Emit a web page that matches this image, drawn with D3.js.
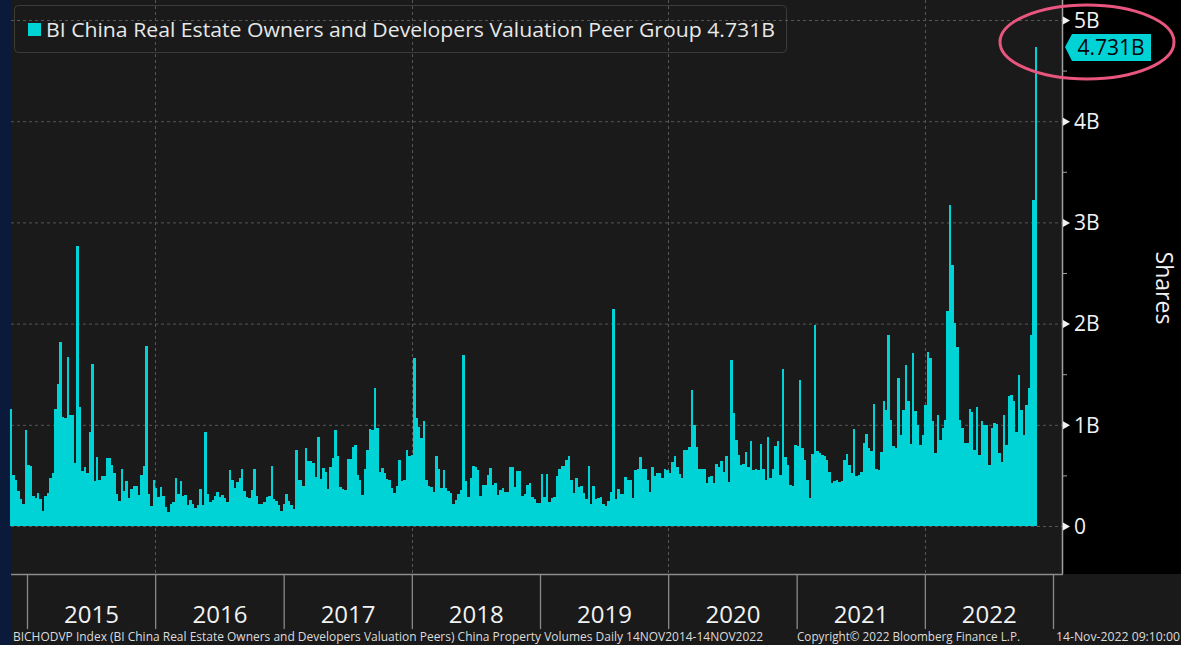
<!DOCTYPE html>
<html>
<head>
<meta charset="utf-8">
<script src="https://cdn.jsdelivr.net/npm/d3@7"></script>
<style>
  html, body { margin: 0; padding: 0; background: #1a1a1a; overflow: hidden; }
  svg { display: block; }
  text { font-family: "Open Sans", "DejaVu Sans", sans-serif; }
</style>
</head>
<body>
<div id="chart"></div>
<script>
// weekly volume (billions of shares), 14NOV2014 .. 14NOV2022
const volumes = [
  1.16, 0.5, 0.45, 0.35, 0.27, 0.22, 0.95, 0.6, 0.59, 0.3,
  0.28, 0.33, 0.27, 0.15, 0.3, 0.33, 0.47, 0.52, 1.16, 1.4,
  1.82, 1.08, 1.07, 1.67, 1.1, 1.1, 0.62, 2.77, 1.18, 0.54,
  0.58, 0.52, 0.93, 1.6, 0.44, 0.68, 0.45, 0.49, 0.49, 0.67,
  0.67, 0.6, 0.52, 0.32, 0.25, 0.56, 0.35, 0.44, 0.28, 0.37,
  0.4, 0.4, 0.31, 0.5, 0.59, 1.78, 0.32, 0.2, 0.45, 0.38,
  0.29, 0.39, 0.3, 0.19, 0.14, 0.22, 0.24, 0.47, 0.32, 0.44,
  0.3, 0.31, 0.21, 0.26, 0.22, 0.18, 0.21, 0.37, 0.21, 0.93,
  0.32, 0.24, 0.26, 0.3, 0.34, 0.29, 0.31, 0.28, 0.24, 0.55,
  0.45, 0.38, 0.43, 0.47, 0.56, 0.35, 0.29, 0.28, 0.36, 0.56,
  0.3, 0.22, 0.22, 0.24, 0.29, 0.3, 0.59, 0.27, 0.25, 0.21,
  0.15, 0.22, 0.32, 0.25, 0.21, 0.17, 0.75, 0.45, 0.45, 0.4,
  0.77, 0.64, 0.64, 0.62, 0.48, 0.88, 0.46, 0.57, 0.53, 0.37,
  0.58, 0.67, 0.95, 0.69, 0.39, 0.37, 0.36, 0.66, 0.66, 0.78,
  0.8, 0.5, 0.45, 0.31, 0.56, 0.75, 0.96, 0.95, 1.36, 0.97,
  0.53, 0.57, 0.52, 0.46, 0.45, 0.38, 0.33, 0.4, 0.65, 0.44,
  0.45, 0.75, 0.69, 0.7, 1.66, 1.07, 0.98, 0.87, 1.04, 0.45,
  0.4, 0.39, 0.34, 0.69, 0.56, 0.38, 0.55, 0.38, 0.35, 0.33,
  0.22, 0.26, 0.32, 0.36, 1.69, 0.44, 0.29, 0.47, 0.59, 0.58,
  0.55, 0.3, 0.41, 0.41, 0.5, 0.57, 0.41, 0.42, 0.31, 0.36,
  0.38, 0.34, 0.34, 0.58, 0.58, 0.39, 0.54, 0.54, 0.3, 0.32,
  0.41, 0.42, 0.29, 0.27, 0.23, 0.23, 0.51, 0.29, 0.51, 0.24,
  0.28, 0.29, 0.49, 0.56, 0.59, 0.59, 0.65, 0.69, 0.45, 0.33,
  0.47, 0.39, 0.4, 0.33, 0.27, 0.59, 0.22, 0.4, 0.27, 0.28,
  0.29, 0.22, 0.2, 0.25, 0.34, 2.14, 0.27, 0.37, 0.32, 0.32,
  0.48, 0.45, 0.45, 0.28, 0.55, 0.56, 0.68, 0.56, 0.56, 0.45,
  0.34, 0.58, 0.49, 0.52, 0.52, 0.47, 0.56, 0.55, 0.52, 0.63,
  0.69, 0.58, 0.51, 0.47, 0.75, 0.75, 0.78, 1.34, 1.0, 0.78,
  0.56, 0.56, 0.56, 0.42, 0.48, 0.49, 0.42, 0.61, 0.58, 0.64,
  0.53, 0.69, 0.43, 1.64, 1.12, 0.85, 0.7, 0.6, 0.61, 0.73,
  0.58, 0.84, 0.55, 0.56, 0.55, 0.81, 0.56, 0.45, 0.88, 0.47,
  0.56, 0.79, 0.84, 0.5, 1.55, 0.68, 0.6, 0.41, 0.4, 0.8,
  0.79, 1.44, 0.77, 0.65, 0.45, 0.28, 0.71, 1.99, 0.74, 0.72,
  0.7, 0.69, 0.65, 0.53, 0.42, 0.44, 0.45, 0.43, 0.44, 0.65,
  0.71, 0.6, 0.52, 0.96, 0.49, 0.5, 0.53, 0.82, 0.91, 0.77,
  0.74, 1.21, 0.56, 0.55, 0.73, 1.24, 1.15, 1.89, 1.05, 0.79,
  0.77, 1.46, 0.9, 1.15, 1.59, 1.24, 0.81, 1.71, 1.14, 1.0,
  0.8, 0.9, 1.2, 1.72, 1.66, 1.04, 0.72, 1.1, 0.85, 0.97,
  1.05, 2.12, 3.17, 2.58, 2.01, 1.77, 1.05, 0.97, 0.82, 0.82,
  1.16, 1.13, 0.75, 1.18, 0.7, 1.04, 1.0, 1.0, 0.6, 0.97,
  1.02, 1.01, 0.72, 0.63, 1.1, 0.8, 1.28, 1.29, 1.24, 0.93,
  1.49, 1.15, 0.9, 1.2, 1.36, 1.89, 3.22, 4.731
];
const lastDate = new Date(2022, 10, 14);

const years = [2015, 2016, 2017, 2018, 2019, 2020, 2021, 2022];
const gridYears = [2016, 2018, 2020, 2022];
const yTicks = [0, 1, 2, 3, 4, 5];
const yLabels = ["0", "1B", "2B", "3B", "4B", "5B"];
const yMinor = [0.5, 1.5, 2.5, 3.5, 4.5];

const seriesName = "BI China Real Estate Owners and Developers Valuation Peer Group 4.731B";
const lastLabel = "4.731B";
const axisTitle = "Shares";
const footerLeft = "BICHODVP Index (BI China Real Estate Owners and Developers Valuation Peers) China Property Volumes  Daily 14NOV2014-14NOV2022";
const footerMid = "Copyright\u00A9 2022 Bloomberg Finance L.P.";
const footerRight = "14-Nov-2022 09:10:00";

const width = 1181;
const height = 645;
const plotLeft = 11;
const plotRight = 1062;
const plotBottom = 574;

const cyan = "#00d3d6";
const gridColor = "#565656";

const data = volumes.map((v, i) => ({
    date: d3.timeDay.offset(lastDate, -7 * (volumes.length - 1 - i)),
    value: v,
}));

const x = d3.scaleTime()
    .domain([new Date(2015, 0, 1), new Date(2023, 0, 1)])
    .range([27, 1053]);
const y = d3.scaleLinear().domain([0, 5]).range([526, 20]);
const barW = x(new Date(2020, 0, 8)) - x(new Date(2020, 0, 1));

const svg = d3.select("#chart").append("svg")
    .attr("width", width)
    .attr("height", height);

// backgrounds
svg.append("rect").attr("width", width).attr("height", height).attr("fill", "#1a1a1a");
svg.append("rect").attr("width", plotLeft).attr("height", height).attr("fill", "#0b1a3a");
svg.append("rect")
    .attr("x", plotRight).attr("y", 0)
    .attr("width", width - plotRight).attr("height", plotBottom)
    .attr("fill", "#000");

// legend box (grid shows through it)
svg.append("rect")
    .attr("x", 14.5).attr("y", 5.5)
    .attr("width", 772).attr("height", 47)
    .attr("rx", 4)
    .attr("fill", "#1a1a1a")
    .attr("stroke", "#3c3c3c");

// grid
const grid = svg.append("g")
    .attr("stroke", gridColor)
    .attr("stroke-dasharray", "3,3");
grid.selectAll("line.h")
    .data(yTicks)
    .join("line")
    .attr("x1", plotLeft).attr("x2", plotRight)
    .attr("y1", d => y(d) + 0.5).attr("y2", d => y(d) + 0.5);
grid.selectAll("line.v")
    .data(gridYears)
    .join("line")
    .attr("x1", d => Math.round(x(new Date(d, 0, 1))) + 0.5)
    .attr("x2", d => Math.round(x(new Date(d, 0, 1))) + 0.5)
    .attr("y1", 0).attr("y2", plotBottom);

// bars, snapped to whole pixels so neighbours meet without seams
const barLeft = d => Math.round(x(d.date) - barW / 2);
const barRight = d => Math.round(x(d.date) + barW / 2);
svg.append("g")
    .attr("shape-rendering", "crispEdges")
    .selectAll("rect")
    .data(data)
    .join("rect")
    .attr("x", barLeft)
    .attr("y", d => y(d.value))
    .attr("width", d => barRight(d) - barLeft(d))
    .attr("height", d => y(0) - y(d.value))
    .attr("fill", cyan);

// frame lines
svg.append("line")
    .attr("x1", plotRight + 0.5).attr("x2", plotRight + 0.5)
    .attr("y1", 0).attr("y2", plotBottom)
    .attr("stroke", "#a0a0a0").attr("stroke-width", 1.5);
svg.append("line")
    .attr("x1", plotLeft).attr("x2", plotRight + 1)
    .attr("y1", plotBottom + 0.5).attr("y2", plotBottom + 0.5)
    .attr("stroke", "#8c8c8c").attr("stroke-width", 1.5);

// y axis on the right
const yAxis = svg.append("g")
    .attr("transform", `translate(${plotRight + 1},0)`)
    .call(d3.axisRight(y).tickValues(yTicks).tickFormat((d, i) => yLabels[i]).tickSize(0).tickPadding(11));
yAxis.select(".domain").remove();
yAxis.selectAll("text")
    .attr("fill", "#f2f2f2")
    .style("font-size", "21px")
    .attr("dy", "0.35em");
yAxis.selectAll(".tick").append("path")
    .attr("d", "M0,-4L7,0L0,4Z")
    .attr("fill", "#f2f2f2");

const yMinorAxis = svg.append("g")
    .attr("transform", `translate(${plotRight + 1},0)`)
    .call(d3.axisRight(y).tickValues(yMinor).tickFormat("").tickSize(4));
yMinorAxis.select(".domain").remove();
yMinorAxis.selectAll("line").attr("stroke", "#a0a0a0");

svg.append("text")
    .attr("transform", "translate(1156,288) rotate(90)")
    .attr("text-anchor", "middle")
    .attr("fill", "#f2f2f2")
    .style("font-size", "23px")
    .text(axisTitle);

// x axis: year separators and labels
const xSep = svg.append("g")
    .attr("transform", `translate(0,${plotBottom})`)
    .call(d3.axisBottom(x).tickValues(years.concat([2023]).map(d => new Date(d, 0, 1))).tickFormat("").tickSize(55));
xSep.select(".domain").remove();
xSep.selectAll("line").attr("stroke", "#8a8a8a").attr("stroke-width", 1.3);

const xLab = svg.append("g")
    .attr("transform", `translate(0,${plotBottom})`)
    .call(d3.axisBottom(x).tickValues(years.map(d => new Date(d, 6, 2))).tickFormat(d3.timeFormat("%Y")).tickSize(0).tickPadding(32));
xLab.select(".domain").remove();
xLab.selectAll("text")
    .attr("fill", "#f2f2f2")
    .style("font-size", "24px");

// legend
svg.append("rect")
    .attr("x", 28).attr("y", 23)
    .attr("width", 13).attr("height", 13)
    .attr("fill", cyan);
svg.append("text")
    .attr("x", 46).attr("y", 37)
    .attr("fill", "#e8e8e8")
    .attr("textLength", 729)
    .attr("lengthAdjust", "spacingAndGlyphs")
    .style("font-size", "20px")
    .text(seriesName);

// last value tag
const tagY = 47;
svg.append("path")
    .attr("d", `M1065,${tagY}L1072,${tagY - 13}L1151,${tagY - 13}L1151,${tagY + 14}L1072,${tagY + 14}Z`)
    .attr("fill", cyan);
svg.append("text")
    .attr("x", 1111).attr("y", tagY)
    .attr("dy", "0.36em")
    .attr("text-anchor", "middle")
    .attr("fill", "#050505")
    .style("font-size", "21px")
    .text(lastLabel);

// highlight ellipse
svg.append("ellipse")
    .attr("cx", 1087).attr("cy", 42)
    .attr("rx", 87).attr("ry", 37)
    .attr("fill", "none")
    .attr("stroke", "#e8557e")
    .attr("stroke-width", 3);

// footer
const footer = svg.append("g")
    .attr("fill", "#dcdcdc")
    .style("font-size", "12px");
footer.append("text").attr("x", 13).attr("y", 641)
    .attr("textLength", 750).attr("lengthAdjust", "spacingAndGlyphs")
    .text(footerLeft);
footer.append("text").attr("x", 797).attr("y", 641)
    .attr("textLength", 223).attr("lengthAdjust", "spacingAndGlyphs")
    .text(footerMid);
footer.append("text").attr("x", 1056).attr("y", 641)
    .attr("textLength", 124).attr("lengthAdjust", "spacingAndGlyphs")
    .text(footerRight);
</script>
</body>
</html>
